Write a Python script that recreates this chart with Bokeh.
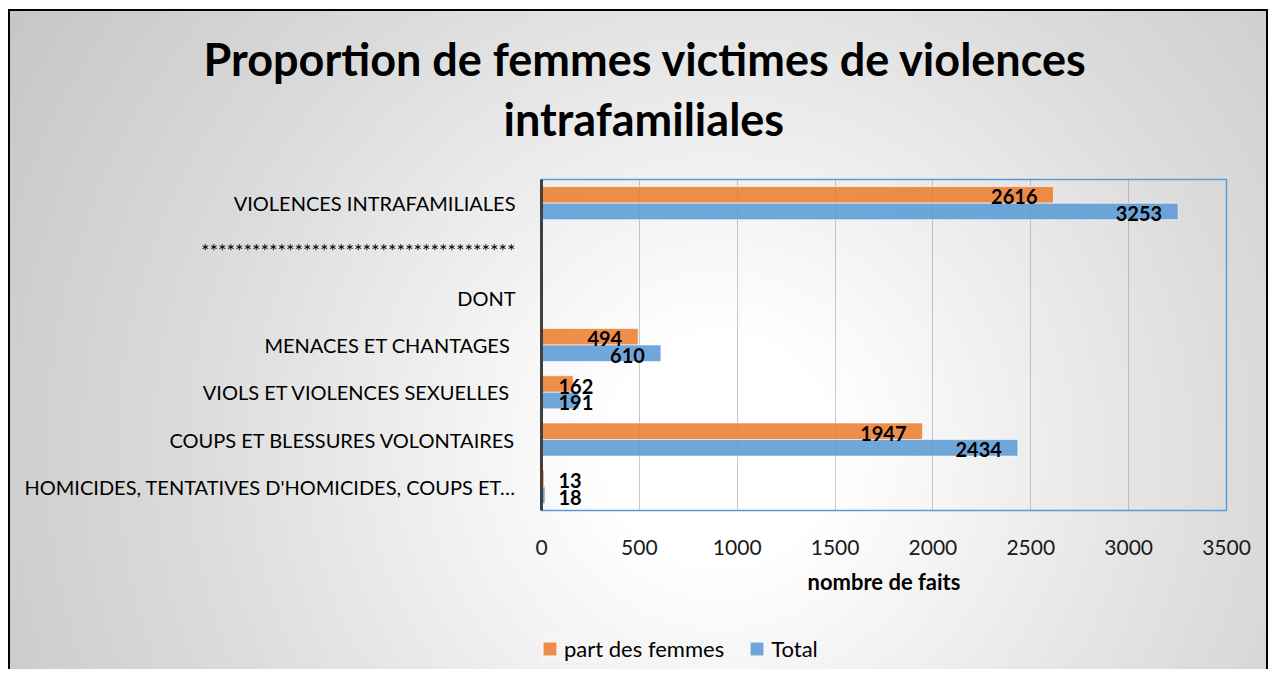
from bokeh.plotting import figure
from bokeh.layouts import column
from bokeh.models import (ColumnDataSource, FactorRange, Range1d, Title, Legend,
                          LegendItem, FixedTicker)
from bokeh.transform import dodge
from bokeh.core.properties import value
from bokeh.embed import file_html
from bokeh.resources import INLINE

# ---------------- data ----------------
categories = [
    "HOMICIDES, TENTATIVES D'HOMICIDES, COUPS ET…",
    "COUPS ET BLESSURES VOLONTAIRES",
    "VIOLS ET VIOLENCES SEXUELLES ",
    "MENACES ET CHANTAGES ",
    "DONT",
    "*************************************",
    "VIOLENCES INTRAFAMILIALES",
]
part_des_femmes = [13, 1947, 162, 494, None, None, 2616]
total = [18, 2434, 191, 610, None, None, 3253]
x_ticks = [0, 500, 1000, 1500, 2000, 2500, 3000, 3500]
series_names = ["part des femmes", "Total"]
title_lines = ["Proportion de femmes victimes de violences", "intrafamiliales"]
x_label = "nombre de faits"

FONT = "Lato"
ORANGE = "#ED7D31"
BLUE = "#5B9BD5"

def nan(v):
    return float("nan") if v is None else v

src = ColumnDataSource(dict(
    cat=categories,
    femmes=[nan(v) for v in part_des_femmes],
    total=[nan(v) for v in total],
))

W, H = 1268, 669
H1 = 600          # main chart
H2 = H - H1       # legend strip

p = figure(
    width=W, height=H1,
    y_range=FactorRange(factors=categories),
    x_range=Range1d(0, 3500),
    output_backend="svg", toolbar_location=None, tools="",
    min_border_left=541, min_border_right=W - 1226,
    min_border_top=179, min_border_bottom=H1 - 510,
)
p.border_fill_color = None
p.background_fill_color = None
p.outline_line_color = BLUE
p.outline_line_width = 1.5

# titles (p.title is the outer line, the added Title sits next to the frame)
p.title.text = title_lines[0]
p.title.align = "left"
p.title.offset = -338
p.title.text_font = FONT
p.title.text_font_size = "45px"
p.title.text_font_style = "bold"
p.title.text_color = "#000000"
p.title.standoff = -59
t2 = Title(text=title_lines[1], align="left", offset=-38, text_font=FONT,
           text_font_size="45px", text_font_style="bold", text_color="#000000",
           standoff=67)
p.add_layout(t2, "above")

# bars
bar_kw = dict(height=0.35, fill_alpha=0.88, line_color="white", line_alpha=0.6, line_width=1)
r_f = p.hbar(y=dodge("cat", 0.175, range=p.y_range), right="femmes", left=0,
             source=src, fill_color=ORANGE, **bar_kw)
r_t = p.hbar(y=dodge("cat", -0.175, range=p.y_range), right="total", left=0,
             source=src, fill_color=BLUE, **bar_kw)

# data labels
def label_source(vals, big):
    cats, xs, txt = [], [], []
    for c, v in zip(categories, vals):
        if v is None:
            continue
        if (v >= 300) == big:
            cats.append(c); xs.append(v if big else 0); txt.append(str(v))
    return ColumnDataSource(dict(cat=cats, x=xs, t=txt))

for vals, off in ((part_des_femmes, 0.175), (total, -0.175)):
    for big in (True, False):
        s = label_source(vals, big)
        p.text(x="x", y=dodge("cat", off, range=p.y_range), text="t", source=s,
               text_align="right" if big else "left",
               x_offset=-16 if big else 17, y_offset=2,
               text_baseline="middle", text_font=value(FONT),
               text_font_size="20px", text_font_style="bold", text_color="#000000")

# axes
p.xaxis.ticker = FixedTicker(ticks=x_ticks)
p.xaxis.axis_line_color = None
p.xaxis.major_tick_line_color = None
p.xaxis.minor_tick_line_color = None
p.xaxis.major_label_text_font = FONT
p.xaxis.major_label_text_font_size = "21px"
p.xaxis.major_label_text_color = "#1a1a1a"
p.xaxis.major_label_standoff = 23
p.xaxis.axis_label = x_label
p.xaxis.axis_label_text_font = FONT
p.xaxis.axis_label_text_font_size = "22px"
p.xaxis.axis_label_text_font_style = "bold"
p.xaxis.axis_label_text_color = "#000000"
p.xaxis.axis_label_standoff = 10

p.yaxis.axis_line_color = "#404040"
p.yaxis.axis_line_width = 3
p.yaxis.major_tick_line_color = None
p.yaxis.minor_tick_line_color = None
p.yaxis.major_label_text_font = FONT
p.yaxis.major_label_text_font_size = "20px"
p.yaxis.major_label_text_color = "#000000"
p.yaxis.major_label_standoff = 20

p.xgrid.ticker = FixedTicker(ticks=x_ticks)
p.xgrid.grid_line_color = "#9a9a9a"
p.xgrid.grid_line_alpha = 0.55
p.ygrid.grid_line_color = None

# ---------------- legend strip ----------------
# same series drawn in a strip whose x range lies outside the data, so that
# only the legend (with its colour swatches) is visible there
p2 = figure(
    width=W, height=H2, x_range=Range1d(-2, -1), y_range=FactorRange(factors=categories),
    output_backend="svg", toolbar_location=None, tools="",
    x_axis_location=None, y_axis_location=None,
    min_border_left=0, min_border_right=0, min_border_top=0, min_border_bottom=0,
)
p2.border_fill_color = None
p2.background_fill_color = None
p2.outline_line_color = None
p2.grid.grid_line_color = None
lf = p2.hbar(y="cat", right="femmes", left=0, source=src, fill_color=ORANGE, **bar_kw)
lt = p2.hbar(y="cat", right="total", left=0, source=src, fill_color=BLUE, **bar_kw)

legend = Legend(
    items=[LegendItem(label=series_names[0], renderers=[lf]),
           LegendItem(label=series_names[1], renderers=[lt])],
    orientation="horizontal", location=(0, 7),
    background_fill_color="#f6f6f6", background_fill_alpha=0.6,
    border_line_color=None, label_text_font=FONT, label_text_font_size="22px",
    label_text_color="#000000", glyph_width=17, glyph_height=17,
    label_height=22, label_standoff=6, spacing=24, padding=12, margin=0,
)
p2.add_layout(legend)

blk = "linear-gradient(#000000,#000000)"
layout = column(p, p2, spacing=0)
layout.styles = {
    "background-color": "#ffffff",
    "background-image": ", ".join([blk, blk, blk,
        "radial-gradient(circle at 712px 441px, #ffffff 0px, #ffffff 110px, #dcdcdc 520px, #c4c4c4 860px)"]),
    "background-size": f"2px {H}px, {W}px 2px, 2px {H}px, {W - 8}px {H - 9}px",
    "background-position": f"8px 9px, 8px 9px, {W - 2}px 9px, 8px 9px",
    "background-repeat": "no-repeat",
}

open("out.html", "w").write(file_html(layout, INLINE))
